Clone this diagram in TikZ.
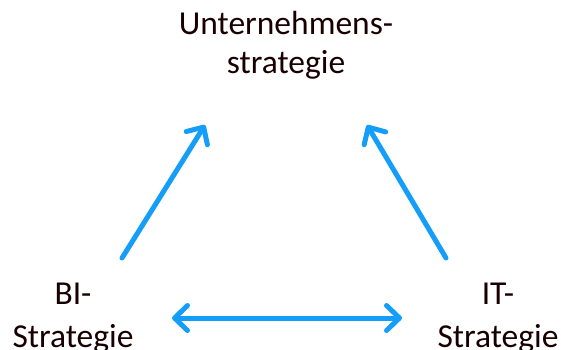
\documentclass[tikz,border=0pt]{standalone}
\usepackage{fontspec}
\setmainfont{Carlito}
\usetikzlibrary{arrows.meta}
\definecolor{pfeilblau}{RGB}{20,158,250}
\tikzset{spitze/.tip={Straight Barb[length=13pt,width=25pt,line cap=round,line join=round]}}
\begin{document}
\begin{tikzpicture}[x=1pt,y=-1pt,
  label/.style={align=center,inner sep=0pt,anchor=base,text=black!90!red,font=\fontsize{33.5}{39}\selectfont},
  pfeil/.style={draw=pfeilblau,line width=5pt,line cap=round}]
\useasboundingbox (0,0) rectangle (561,349);
\node[label] (unt) at (286,73) {Unternehmens-\\strategie};
\node[label,font=\fontsize{33.5}{43}\selectfont] (bi) at (73,347) {BI-\\Strategie};
\node[label,font=\fontsize{33.5}{43}\selectfont] (it) at (498,347) {IT-\\Strategie};
\coordinate (bi-oben) at (122,258);
\coordinate (unt-links) at (205,125);
\coordinate (it-oben) at (446,258);
\coordinate (unt-rechts) at (367,125);
\coordinate (bi-rechts) at (172,318);
\coordinate (it-links) at (402,318);
\draw[pfeil,-spitze] (bi-oben) -- (unt-links);
\draw[pfeil,-spitze] (it-oben) -- (unt-rechts);
\draw[pfeil,spitze-spitze] (bi-rechts) -- (it-links);
\end{tikzpicture}
\end{document}
